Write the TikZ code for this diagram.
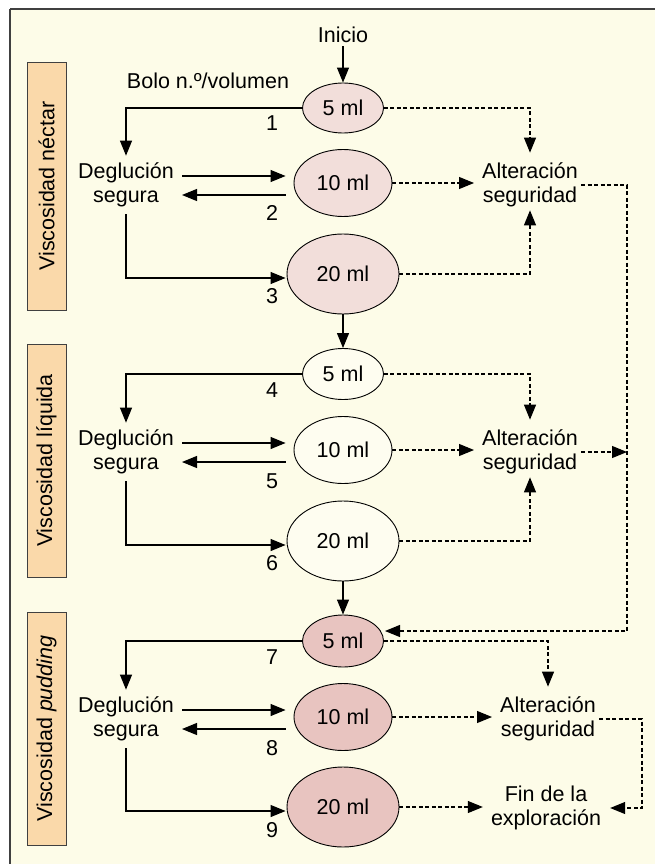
\documentclass[tikz,border=0pt]{standalone}
\usepackage{fontspec}
\setmainfont{Liberation Sans}
\usetikzlibrary{arrows.meta,shapes.geometric}
\definecolor{bgc}{HTML}{FDFCE8}
\definecolor{framec}{HTML}{404040}
\definecolor{orangec}{HTML}{FAD9AA}
\definecolor{necc}{HTML}{F2DEDA}
\definecolor{pudc}{HTML}{E8C4C0}
\definecolor{liqc}{HTML}{FEFDF0}
\begin{document}
\begin{tikzpicture}[x=1pt,y=-1pt,
  txt/.style={font=\fontsize{21.5}{24}\selectfont, align=center},
  ell/.style={ellipse, draw=black, line width=0.9pt, inner sep=0pt, font=\fontsize{21.5}{24}\selectfont},
  arr/.style={line width=1.1pt, -{Triangle[length=15pt,width=12pt]}},
  darr/.style={line width=1.1pt, dash pattern=on 4pt off 2.5pt, -{Triangle[length=15pt,width=12pt]}},
  side/.style={draw=framec, fill=orangec, line width=0.8pt, inner sep=0pt, minimum height=39pt, rotate=90, font=\fontsize{21.5}{24}\selectfont},
  deg/.style={txt, inner xsep=8pt, inner ysep=7pt},
  alt/.style={txt, inner sep=3pt}]
\useasboundingbox (0,0) rectangle (655,864);
\fill[bgc] (10,9) rectangle (655,864);
\draw[framec, line width=2pt] (10,9) -- (655,9);
\draw[framec, line width=1.5pt] (10,9) -- (10,864);

% side labels
\node[side, minimum width=248pt] (sa) at (46.5,186) {Viscosidad néctar};
\node[side, minimum width=233pt] (sb) at (46.5,460.5) {Viscosidad líquida};
\node[side, minimum width=233pt] (sc) at (46.5,728.5) {Viscosidad \textit{pudding}};

% top
\node[txt] (ini) at (343,35) {Inicio};
\node[txt] (bolo) at (208,81) {Bolo n.º/volumen};

% ellipses
\node[ell, fill=necc, minimum width=81pt, minimum height=50pt] (e5a) at (343,108) {5 ml};
\node[ell, fill=necc, minimum width=98pt, minimum height=67pt] (e10a) at (343,183) {10 ml};
\node[ell, fill=necc, minimum width=112pt, minimum height=80pt] (e20a) at (343,274) {20 ml};
\node[ell, fill=liqc, minimum width=81pt, minimum height=51pt] (e5b) at (343,374) {5 ml};
\node[ell, fill=liqc, minimum width=98pt, minimum height=67pt] (e10b) at (343,450) {10 ml};
\node[ell, fill=liqc, minimum width=112pt, minimum height=80pt] (e20b) at (343,541) {20 ml};
\node[ell, fill=pudc, minimum width=81pt, minimum height=52pt] (e5c) at (343,641) {5 ml};
\node[ell, fill=pudc, minimum width=98pt, minimum height=67pt] (e10c) at (343,717) {10 ml};
\node[ell, fill=pudc, minimum width=112pt, minimum height=80pt] (e20c) at (343,807) {20 ml};

% left texts
\node[deg] (da) at (126,185) {Deglución\\segura};
\node[deg] (db) at (126,452) {Deglución\\segura};
\node[deg] (dc) at (126,719) {Deglución\\segura};

% numbers
\node[txt] (n1) at (272,123) {1};
\node[txt] (n2) at (272,213) {2};
\node[txt] (n3) at (272,296) {3};
\node[txt] (n4) at (272,390) {4};
\node[txt] (n5) at (272,481) {5};
\node[txt] (n6) at (272,563) {6};
\node[txt] (n7) at (272,657) {7};
\node[txt] (n8) at (272,748) {8};
\node[txt] (n9) at (272,830) {9};

% right texts
\node[alt] (aa) at (530,185) {Alteración\\seguridad};
\node[alt] (ab) at (530,452) {Alteración\\seguridad};
\node[alt] (ac) at (548,719) {Alteración\\seguridad};
\node[alt] (fin) at (546,808) {Fin de la\\exploración};

\coordinate (rx) at (627,0);
\coordinate (rx2) at (642,0);
\coordinate (jn) at (385,631);

% solid arrows
\draw[arr] (ini.south) -- (e5a.north);
\draw[arr] (e20a.south) -- (e5b.north);
\draw[arr] (e20b.south) -- (e5c.north);
\foreach \s in {a,b,c}{
  \draw[arr] (e5\s.west) -| (d\s.north);
  \draw[arr, shorten >=8pt] ([yshift=9pt]d\s.east) -- ([yshift=9pt]d\s.east -| e10\s.west);
  \draw[arr] ([yshift=-10pt]d\s.east -| e10\s.west) ++(-8,0) -- ([yshift=-10pt]d\s.east);
  \draw[arr, shorten >=1pt] (d\s.south) |- ([yshift=-4pt]e20\s.west);
}

% dashed arrows
\foreach \s in {a,b}{
  \draw[darr] (e5\s.east) -| ([yshift=7pt]a\s.north);
  \draw[darr, shorten >=5pt] (e10\s.east) -- (e10\s.east -| a\s.west);
  \draw[darr] (e20\s.east) -| (a\s.south);
}
\draw[darr] (aa.east) -- (aa.east -| rx) -- (rx |- jn) -- (jn);
\draw[darr] (ab.east) -- (ab.east -| rx);
\draw[darr] (e5c.east) -| ([yshift=7pt]ac.north);
\draw[darr, shorten >=5pt] (e10c.east) -- (e10c.east -| ac.west);
\draw[darr, shorten >=5pt] (e20c.east) -- (e20c.east -| fin.west);
\draw[darr] (ac.east) -- (ac.east -| rx2) |- ([xshift=6pt]fin.east);
\end{tikzpicture}
\end{document}
